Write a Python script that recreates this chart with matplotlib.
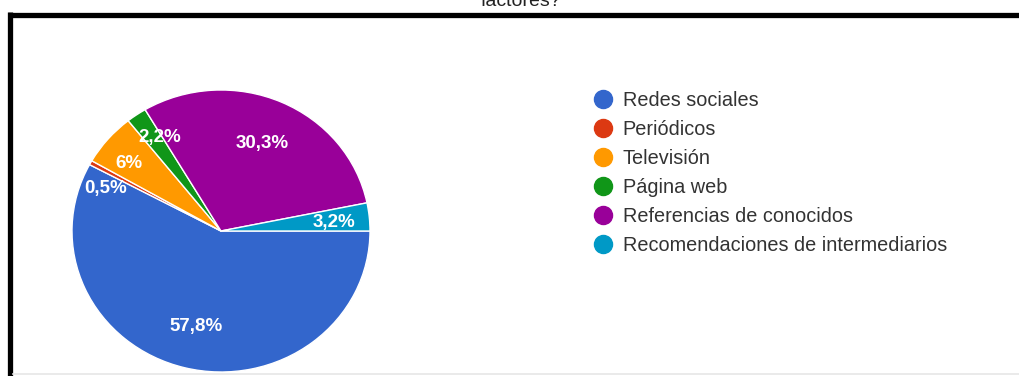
import numpy as np
import matplotlib
matplotlib.use('Agg')
import matplotlib.pyplot as plt
from matplotlib.lines import Line2D

plt.rcParams['font.family'] = ['Liberation Sans', 'DejaVu Sans']

# respuestas (%)
categorias = ['Redes sociales', 'Periódicos', 'Televisión', 'Página web',
              'Referencias de conocidos', 'Recomendaciones de intermediarios']
porcentajes = [57.8, 0.5, 6, 2.2, 30.3, 3.2]
colores = ['#3366cc', '#dc3912', '#ff9900', '#109618', '#990099', '#0099c6']

# posicion de las etiquetas: fraccion del radio y giro en grados
radio_etq = [0.70, 0.83, 0.78, 0.78, 0.68, 0.76]
giro_etq = [0, 7.5, 3, -3, 0, -1]

W, H = 1020, 376
fig = plt.figure(figsize=(W / 100, H / 100), dpi=100)
fig.patch.set_facecolor('white')

# pastel (un poco mas ancho que alto)
ax = fig.add_axes([72 / W, 4 / H, 298 / W, 282 / H])
wedges, _ = ax.pie(porcentajes, colors=colores, startangle=0, counterclock=False,
                   wedgeprops=dict(edgecolor='white', linewidth=1.0))
ax.set_aspect('auto')
ax.set_xlim(-1, 1)
ax.set_ylim(-1, 1)
ax.axis('off')

for w, v, r, g in zip(wedges, porcentajes, radio_etq, giro_etq):
    mid = np.deg2rad((w.theta1 + w.theta2) / 2 + g)
    txt = f'{v:g}'.replace('.', ',') + '%'
    ax.text(r * np.cos(mid), r * np.sin(mid), txt, color='white',
            fontsize=13.5, fontweight='bold', ha='center', va='center')

# leyenda
handles = [Line2D([], [], marker='o', linestyle='none', markersize=13,
                  markerfacecolor=c, markeredgecolor=c) for c in colores]
fig.legend(handles, categorias, loc='upper left',
           bbox_to_anchor=(593 / W, 1 - 91 / H), frameon=False,
           fontsize=14.3, handlelength=1.0, handletextpad=0.5,
           labelspacing=0.5, borderpad=0, borderaxespad=0,
           labelcolor='#333333')

# titulo cortado arriba
fig.text(521 / W, 1 - 6 / H, 'factores?', ha='center', va='baseline',
         fontsize=14, color='#222222')

# marco negro
fig.add_artist(Line2D([8 / W, 1], [1 - 14.5 / H, 1 - 14.5 / H], color='black',
                      linewidth=3.8, solid_capstyle='butt'))
fig.add_artist(Line2D([10.5 / W, 10.5 / W], [0, 1 - 12 / H], color='black',
                      linewidth=3.8, solid_capstyle='butt'))
fig.add_artist(Line2D([13 / W, 1], [2.5 / H, 2.5 / H], color='#e6e6e6',
                      linewidth=1.2))

fig.savefig('out.png', dpi=100, facecolor='white')
